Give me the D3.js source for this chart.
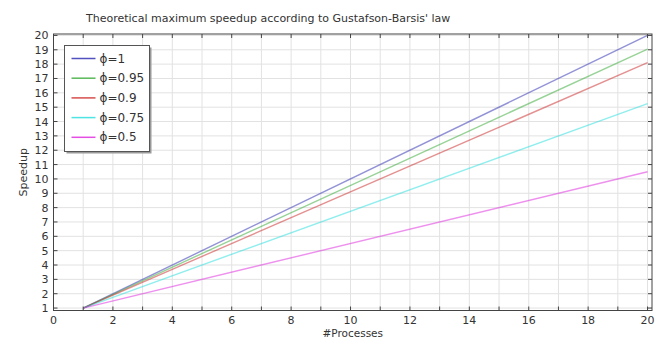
<!DOCTYPE html>
<html lang="en">
<head>
    <meta charset="UTF-8">
    <title>Gustafson-Barsis speedup</title>
    <script src="https://d3js.org/d3.v7.min.js"></script>
    <style>
        body { margin: 0; background: #fff; }
        #chart text { font-family: "DejaVu Sans", sans-serif; fill: #333; }
        .grid line { stroke: #e2e2e2; stroke-width: 1; }
        .frame { fill: none; stroke: #444; stroke-width: 1; }
        .tick-mark { stroke: #444; stroke-width: 1; }
    </style>
</head>
<body>
    <svg id="chart" width="663" height="339"></svg>
    <script>
        // data
        const processes = [1, 20];
        const phis = ["1", "0.95", "0.9", "0.75", "0.5"];
        const speedups = [
            [1, 20],
            [1, 19.05],
            [1, 18.1],
            [1, 15.25],
            [1, 10.5]
        ];
        const lineColors = ["#2525b0", "#30a830", "#cc2222", "#22dddd", "#dd22dd"];
        const xTicks = d3.range(0, 21, 2);
        const yTicks = d3.range(1, 21);
        const minorX = d3.range(1, 21);

        const svg = d3.select("#chart");
        const pLeft = 53.5, pRight = 652, pTop = 34, pBottom = 310.5;

        const x = d3.scaleLinear().domain([0, 20.15]).range([pLeft, pRight]);
        const y = d3.scaleLinear().domain([0.83, 20.1]).range([pBottom, pTop]);

        // grid
        const grid = svg.append("g").attr("class", "grid");
        grid.selectAll(".gx")
            .data(minorX)
            .enter()
            .append("line")
            .attr("x1", d => x(d)).attr("x2", d => x(d))
            .attr("y1", pTop).attr("y2", pBottom);
        grid.selectAll(".gy")
            .data(yTicks)
            .enter()
            .append("line")
            .attr("x1", pLeft).attr("x2", pRight)
            .attr("y1", d => y(d)).attr("y2", d => y(d));

        // series
        const line = d3.line()
            .x((d, i) => x(processes[i]))
            .y(d => y(d));

        svg.selectAll(".series")
            .data(speedups)
            .enter()
            .append("path")
            .attr("class", "series")
            .attr("d", d => line(d))
            .attr("fill", "none")
            .attr("stroke", (d, i) => lineColors[i])
            .attr("stroke-opacity", 0.5)
            .attr("stroke-width", 1.4);

        // frame and tick marks on every side
        svg.append("rect")
            .attr("class", "frame")
            .attr("x", pLeft).attr("y", pTop)
            .attr("width", pRight - pLeft).attr("height", pBottom - pTop);

        const tickLen = 4;
        minorX.forEach(v => {
            svg.append("line").attr("class", "tick-mark")
                .attr("x1", x(v)).attr("x2", x(v))
                .attr("y1", pBottom).attr("y2", pBottom - tickLen);
            svg.append("line").attr("class", "tick-mark")
                .attr("x1", x(v)).attr("x2", x(v))
                .attr("y1", pTop).attr("y2", pTop + tickLen);
        });
        yTicks.forEach(v => {
            svg.append("line").attr("class", "tick-mark")
                .attr("x1", pLeft).attr("x2", pLeft + tickLen)
                .attr("y1", y(v)).attr("y2", y(v));
            svg.append("line").attr("class", "tick-mark")
                .attr("x1", pRight).attr("x2", pRight - tickLen)
                .attr("y1", y(v)).attr("y2", y(v));
        });

        // tick labels
        svg.selectAll(".xlab")
            .data(xTicks)
            .enter()
            .append("text")
            .attr("x", d => x(d))
            .attr("y", 324)
            .attr("text-anchor", "middle")
            .attr("font-size", "11px")
            .text(d => d);

        svg.selectAll(".ylab")
            .data(yTicks)
            .enter()
            .append("text")
            .attr("x", pLeft - 5)
            .attr("y", d => y(d) + 4)
            .attr("text-anchor", "end")
            .attr("font-size", "11px")
            .text(d => d);

        // titles
        svg.append("text")
            .attr("x", 86)
            .attr("y", 21.5)
            .attr("font-size", "11px")
            .text("Theoretical maximum speedup according to Gustafson-Barsis' law");

        svg.append("text")
            .attr("x", (pLeft + pRight) / 2)
            .attr("y", 336.5)
            .attr("text-anchor", "middle")
            .attr("font-size", "10.5px")
            .text("#Processes");

        svg.append("text")
            .attr("transform", `translate(27, ${(pTop + pBottom) / 2}) rotate(-90)`)
            .attr("text-anchor", "middle")
            .attr("font-size", "11px")
            .text("Speedup");

        // legend
        const legend = svg.append("g").attr("transform", "translate(64.5, 45.5)");
        legend.append("rect")
            .attr("x", 2).attr("y", 2)
            .attr("width", 85).attr("height", 106)
            .attr("fill", "#999");
        legend.append("rect")
            .attr("width", 85).attr("height", 106)
            .attr("fill", "#fff")
            .attr("stroke", "#555")
            .attr("stroke-width", 1);

        const items = legend.selectAll(".item")
            .data(phis)
            .enter()
            .append("g")
            .attr("transform", (d, i) => `translate(0, ${13 + i * 19.7})`);
        items.append("line")
            .attr("x1", 7).attr("x2", 31)
            .attr("y1", 0).attr("y2", 0)
            .attr("stroke", (d, i) => lineColors[i])
            .attr("stroke-opacity", 0.8)
            .attr("stroke-width", 1.5);
        items.append("text")
            .attr("x", 35)
            .attr("y", 4)
            .attr("font-size", "12px")
            .text(d => "\u03d5=" + d);
    </script>
</body>
</html>
